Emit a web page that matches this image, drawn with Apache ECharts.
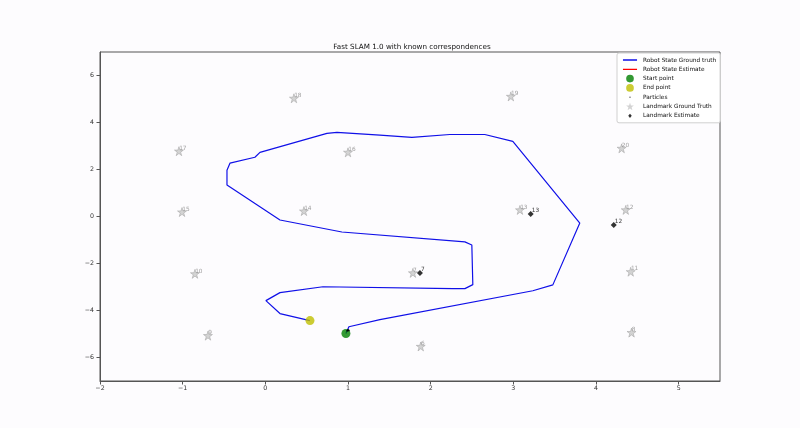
<!DOCTYPE html>
<html>
<head>
<meta charset="utf-8">
<script src="https://cdn.jsdelivr.net/npm/echarts@6/dist/echarts.min.js"></script>
<style>
html,body{margin:0;padding:0;background:#fdfcfe;}
#chart{width:800px;height:428px;}
</style>
</head>
<body>
<div id="chart"></div>
<script>
// ---- data ----
const titleText = 'Fast SLAM 1.0 with known correspondences';
const xTicks = [-2, -1, 0, 1, 2, 3, 4, 5];
const yTicks = [-6, -4, -2, 0, 2, 4, 6];
const robotTruthX = [0.975, 1.011, 1.386, 3.236, 3.478, 3.804, 2.994, 2.655, 2.232, 1.773, 1.386, 0.866, 0.745, -0.065, -0.126, -0.428, -0.464, -0.464, 0.177, 0.926, 2.414, 2.498, 2.51, 2.414, 2.268, 0.697, 0.177, 0.007, 0.177, 0.539];
const robotTruthY = [-4.98, -4.69, -4.39, -3.16, -2.91, -0.28, 3.20, 3.49, 3.49, 3.37, 3.46, 3.58, 3.54, 2.73, 2.52, 2.27, 1.97, 1.34, -0.15, -0.66, -1.08, -1.21, -2.90, -3.07, -3.07, -2.99, -3.24, -3.58, -4.13, -4.43];
const robotEstimate = [];
const startPoint = [0.975, -4.98];
const endPoint = [0.54, -4.43];
const particles = [[1.0, -4.83], [0.99, -4.86], [1.01, -4.85]];
const landmarkIds = [18, 19, 17, 16, 20, 15, 14, 13, 12, 10, 7, 11, 9, 6, 8];
const landmarkX = [0.346, 2.97, -1.045, 1.0, 4.31, -1.008, 0.467, 3.08, 4.36, -0.851, 1.785, 4.42, -0.694, 1.88, 4.43];
const landmarkY = [5.03, 5.11, 2.78, 2.73, 2.90, 0.19, 0.23, 0.28, 0.28, -2.44, -2.40, -2.35, -5.07, -5.53, -4.94];
const estimateIds = [13, 12, 7];
const estimateX = [3.21, 4.215, 1.87];
const estimateY = [0.11, -0.36, -2.40];
const legendNames = ['Robot State Ground truth', 'Robot State Estimate', 'Start point', 'End point', 'Particles', 'Landmark Ground Truth', 'Landmark Estimate'];

// ---- build ----
const STAR = 'path://M50,2 L61,36 L97,36 L68,57 L79,92 L50,70 L21,92 L32,57 L3,36 L39,36 Z';
const FONT = 'DejaVu Sans';
const fmtMinus = v => String(v).replace('-', '\u2212');
// tiny invisible anchors fix every legend icon's box to 100x50
const BOX = 'M0,0l0.05,0l0,0.05z M100,50l-0.05,0l0,-0.05z ';
const legendIcons = [
  'path://' + BOX + 'M6,21h88v8h-88z',
  'path://' + BOX + 'M6,21h88v8h-88z',
  'path://' + BOX + 'M26,25a24,24 0 1,0 48,0a24,24 0 1,0 -48,0z',
  'path://' + BOX + 'M26,25a24,24 0 1,0 48,0a24,24 0 1,0 -48,0z',
  'path://' + BOX + 'M46,25a4,4 0 1,0 8,0a4,4 0 1,0 -8,0z',
  'path://' + BOX + 'M50,2L56,19L74,19L60,30L65,48L50,37L35,48L40,30L26,19L44,19Z',
  'path://' + BOX + 'M50,12L61,25L50,38L39,25Z'
];

const truthData = robotTruthX.map((x, i) => [x, robotTruthY[i]]);
const lmData = landmarkX.map((x, i) => ({ name: String(landmarkIds[i]), value: [x, landmarkY[i]] }));
const estData = estimateX.map((x, i) => ({ name: String(estimateIds[i]), value: [x, estimateY[i]] }));

const chart = echarts.init(document.getElementById('chart'), null, { renderer: 'canvas' });
chart.setOption({
  backgroundColor: '#fdfcfe',
  animation: false,
  textStyle: { fontFamily: FONT },
  title: {
    text: titleText,
    left: 407, top: 39, textAlign: 'center',
    textStyle: { fontFamily: FONT, fontSize: 7.2, fontWeight: 'normal', color: '#111' }
  },
  legend: {
    orient: 'vertical',
    left: 617, top: 53,
    padding: [3, 4, 3, 5],
    itemWidth: 16, itemHeight: 8, itemGap: 1.3,
    borderColor: '#d0d0d0', borderWidth: 1, borderRadius: 2,
    backgroundColor: 'rgba(255,255,255,0.85)',
    selectedMode: false,
    itemStyle: { borderWidth: 0 },
    lineStyle: { width: 0 },
    textStyle: { fontFamily: FONT, fontSize: 5.8, color: '#111' },
    data: legendNames.map((n, i) => ({ name: n, icon: legendIcons[i], itemStyle: { borderWidth: 0 } }))
  },
  grid: { left: 100, right: 80, top: 52, bottom: 47, show: true, borderColor: '#555', borderWidth: 1, backgroundColor: 'transparent' },
  xAxis: {
    type: 'value', min: -2, max: 5.5,
    axisLine: { show: true, onZero: false, lineStyle: { color: '#555', width: 1 } },
    axisTick: { show: true, length: 3.5, customValues: xTicks, lineStyle: { color: '#555' } },
    axisLabel: { customValues: xTicks, fontSize: 6.3, color: '#333', margin: 4, fontFamily: FONT, formatter: fmtMinus },
    splitLine: { show: false }
  },
  yAxis: {
    type: 'value', min: -7, max: 7,
    axisLine: { show: true, onZero: false, lineStyle: { color: '#555', width: 1 } },
    axisTick: { show: true, length: 3.5, customValues: yTicks, lineStyle: { color: '#555' } },
    axisLabel: { customValues: yTicks, fontSize: 6.3, color: '#333', margin: 6, fontFamily: FONT, formatter: fmtMinus },
    splitLine: { show: false }
  },
  series: [
    { name: legendNames[0], type: 'line', data: truthData, showSymbol: false, symbol: 'none',
      lineStyle: { color: '#1010e8', width: 1.2 }, itemStyle: { color: '#1010e8' }, z: 2 },
    { name: legendNames[1], type: 'line', data: robotEstimate, showSymbol: false, symbol: 'none',
      lineStyle: { color: '#ff0000', width: 1.2 }, itemStyle: { color: '#ff0000' }, z: 2 },
    { name: legendNames[2], type: 'scatter', data: [startPoint], symbol: 'circle', symbolSize: 9,
      itemStyle: { color: '#008000' }, z: 4 },
    { name: legendNames[3], type: 'scatter', data: [endPoint], symbol: 'circle', symbolSize: 9,
      itemStyle: { color: '#bfbf00' }, z: 4 },
    { name: legendNames[4], type: 'scatter', data: particles, symbol: 'circle', symbolSize: 2,
      itemStyle: { color: '#000' }, z: 5 },
    { name: legendNames[5], type: 'scatter', data: lmData, symbol: STAR, symbolSize: 9,
      itemStyle: { color: '#c8c8c8', borderColor: '#9a9a9a', borderWidth: 0.6 }, z: 3,
      label: { show: true, formatter: p => p.name, position: [5, 5], align: 'left', verticalAlign: 'bottom',
        fontSize: 5.8, color: '#888', fontFamily: FONT } },
    { name: legendNames[6], type: 'scatter', data: estData, symbol: 'diamond', symbolSize: 6,
      itemStyle: { color: '#000' }, z: 6,
      label: { show: true, formatter: p => p.name, position: [4, 3], align: 'left', verticalAlign: 'bottom',
        fontSize: 5.8, color: '#000', fontFamily: FONT } }
  ]
});
</script>
</body>
</html>
